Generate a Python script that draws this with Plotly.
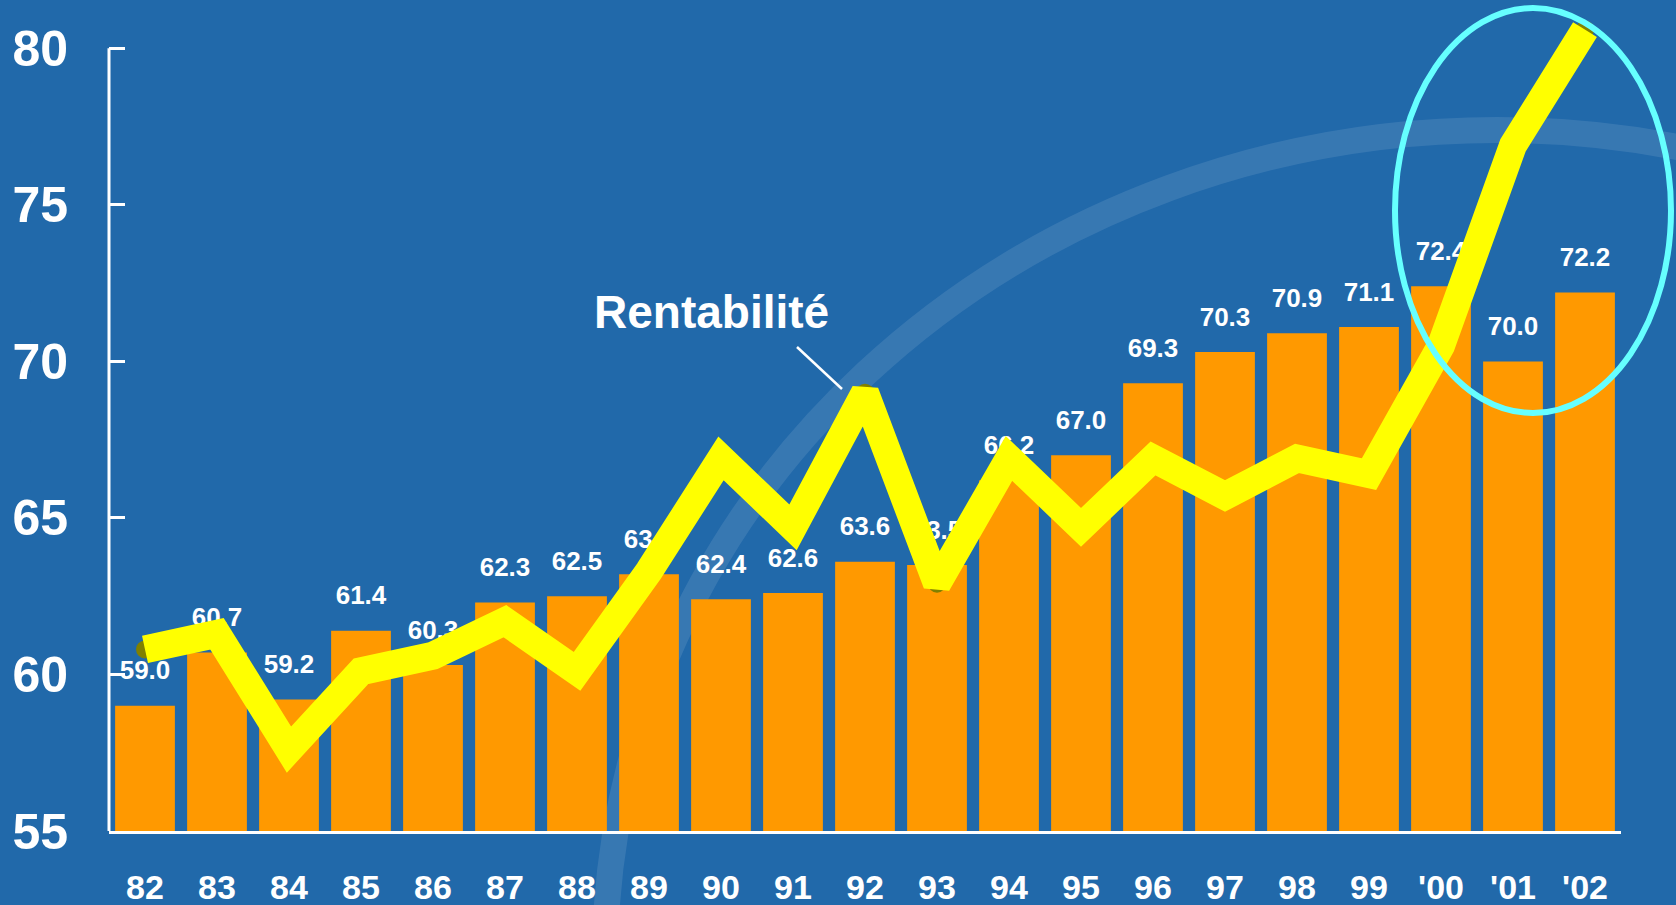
import plotly.graph_objects as go

# data
years = ["82", "83", "84", "85", "86", "87", "88", "89", "90", "91", "92",
         "93", "94", "95", "96", "97", "98", "99", "'00", "'01", "'02"]
bar_values = [59.0, 60.7, 59.2, 61.4, 60.3, 62.3, 62.5, 63.2, 62.4, 62.6, 63.6,
              63.5, 66.2, 67.0, 69.3, 70.3, 70.9, 71.1, 72.4, 70.0, 72.2]
rentabilite = [60.8, 61.3, 57.6, 60.1, 60.6, 61.7, 60.1, 63.3, 66.9, 64.7, 69.0,
               62.9, 66.9, 64.7, 66.9, 65.7, 66.9, 66.4, 70.5, 76.9, 80.6]
y_ticks = [55, 60, 65, 70, 75, 80]

BG = "#2169AA"
ORANGE = "#FF9900"
YELLOW = "#FFFF00"
CYAN = "#66FFFF"
FONT = "Liberation Sans"

fig = go.Figure()

# orange bars
fig.add_trace(go.Bar(
    x=years, y=bar_values,
    marker=dict(color=ORANGE, line=dict(width=0)),
    hoverinfo="skip",
))

# value labels above the bars (they sit under the yellow line)
fig.add_trace(go.Scatter(
    x=years, y=[v + 1.05 for v in bar_values],
    mode="text",
    text=[f"{v:.1f}" for v in bar_values],
    textposition="middle center",
    textfont=dict(family=FONT, size=26, color="white", weight="bold"),
    hoverinfo="skip",
))

# olive point markers under the line
fig.add_trace(go.Scatter(
    x=years, y=rentabilite,
    mode="markers",
    marker=dict(color="#808000", size=18),
    hoverinfo="skip",
))

# thick yellow profitability line
fig.add_trace(go.Scatter(
    x=years, y=rentabilite,
    mode="lines",
    line=dict(color=YELLOW, width=28),
    cliponaxis=False,
))

fig.update_layout(
    width=1676, height=905,
    margin=dict(l=109, r=55, t=17, b=74, pad=0),
    paper_bgcolor=BG, plot_bgcolor=BG,
    showlegend=False,
    bargap=0.17,
    font=dict(family=FONT, color="white"),
    shapes=[
        # faint background swoosh
        dict(type="circle", xref="paper", yref="paper", layer="below",
             x0=(605 - 109) / 1512, x1=(2389 - 109) / 1512,
             y0=(831 - 1790) / 814, y1=(831 - 130) / 814,
             line=dict(color="rgba(255,255,255,0.10)", width=26)),
        # y axis line, only from 55 to 80
        dict(type="line", xref="paper", yref="y", layer="above",
             x0=0, x1=0, y0=55, y1=80,
             line=dict(color="white", width=3)),
        # cyan highlight ellipse
        dict(type="circle", xref="paper", yref="paper", layer="above",
             x0=(1395 - 109) / 1512, x1=(1671 - 109) / 1512,
             y0=(831 - 413) / 814, y1=(831 - 8) / 814,
             line=dict(color=CYAN, width=6)),
        # leader line for the label
        dict(type="line", xref="paper", yref="paper",
             x0=(797 - 109) / 1512, y0=(831 - 347) / 814,
             x1=(842 - 109) / 1512, y1=(831 - 389) / 814,
             line=dict(color="white", width=2.5)),
    ],
    annotations=[
        dict(text="Rentabilité", xref="paper", yref="paper",
             x=(711 - 109) / 1512, y=(831 - 312) / 814, showarrow=False,
             font=dict(family=FONT, size=46, color="white", weight="bold")),
    ],
)

fig.update_xaxes(
    type="category",
    range=[-0.5, len(years) - 0.5],
    automargin=False,
    showline=True, linecolor="white", linewidth=3,
    showgrid=False, zeroline=False,
    ticks="", ticklabelstandoff=24,
    tickfont=dict(family=FONT, size=34, color="white", weight="bold"),
)
fig.update_yaxes(
    range=[55, 81],
    tickvals=y_ticks,
    automargin=False,
    showline=False,
    showgrid=False, zeroline=False,
    ticks="inside", ticklen=16, tickwidth=3, tickcolor="white",
    ticklabelstandoff=40,
    tickfont=dict(family=FONT, size=50, color="white", weight="bold"),
)

fig.write_html("out.html", config={"displayModeBar": False},
               post_script="document.body.style.margin='0';")
